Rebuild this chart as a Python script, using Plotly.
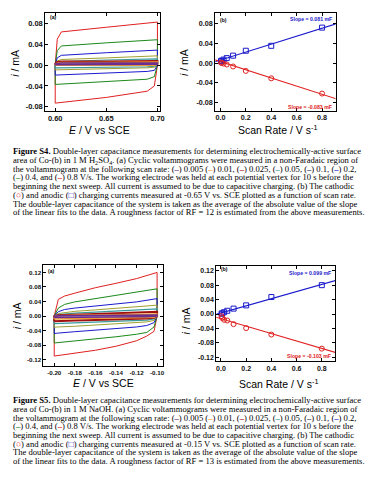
import plotly.graph_objects as go

W, H = 382, 478

# ---------------- data ----------------
scan_rates = [0.005, 0.01, 0.025, 0.05, 0.1, 0.2, 0.4, 0.8]
rate_labels = ["0.005", "0.01", "0.025", "0.05", "0.1", "0.2", "0.4", "0.8"]

# Figure S4 (a): CV loops in 1 M H2SO4
E4 = [0.600, 0.600, 0.602, 0.606, 0.650, 0.700, 0.700, 0.697, 0.690, 0.650, 0.600]
I4_0p8 = [-0.073, 0.000, 0.050, 0.064, 0.073, 0.083, 0.000, -0.040, -0.050, -0.062, -0.073]
I4_0p4 = [-0.037, 0.000, 0.028, 0.037, 0.043, 0.049, 0.000, -0.022, -0.027, -0.032, -0.037]
I4_0p2 = [-0.019, 0.000, 0.014, 0.019, 0.024, 0.029, 0.000, -0.010, -0.012, -0.015, -0.019]
I4_0p1 = [-0.009, 0.000, 0.008, 0.011, 0.014, 0.018, 0.000, -0.004, -0.005, -0.007, -0.009]
I4_0p05 = [-0.005, 0.000, 0.005, 0.007, 0.010, 0.012, 0.000, -0.002, -0.003, -0.004, -0.005]
I4_0p025 = [0.001, 0.003, 0.006, 0.007, 0.007, 0.008, 0.003, 0.001, 0.001, 0.001, 0.001]
I4_0p01 = [0.000, 0.002, 0.004, 0.005, 0.005, 0.006, 0.002, 0.000, 0.000, 0.000, 0.000]
I4_0p005 = [0.001, 0.002, 0.003, 0.004, 0.004, 0.004, 0.002, 0.002, 0.002, 0.002, 0.001]

# Figure S4 (b): charging currents vs scan rate
anodic_S4 = [0.004, 0.005, 0.007, 0.010, 0.015, 0.025, 0.035, 0.072]
cathodic_S4 = [0.001, 0.000, -0.001, -0.003, -0.007, -0.016, -0.031, -0.062]
fit_S4_slopes = [0.081, -0.083]
fit_S4_intercepts = [0.006, 0.003]

# Figure S5 (a): CV loops in 1 M NaOH
E5 = [-0.200, -0.200, -0.196, -0.190, -0.180, -0.160, -0.140, -0.120, -0.100,
      -0.100, -0.103, -0.110, -0.120, -0.140, -0.160, -0.180, -0.197, -0.200]
I5_0p8 = [-0.110, 0.000, 0.046, 0.055, 0.063, 0.078, 0.090, 0.103, 0.120,
          0.000, -0.042, -0.055, -0.068, -0.083, -0.094, -0.103, -0.110, -0.110]
I5_0p4 = [-0.074, 0.000, 0.022, 0.032, 0.039, 0.048, 0.056, 0.064, 0.075,
          0.000, -0.030, -0.045, -0.050, -0.057, -0.062, -0.067, -0.072, -0.074]
I5_0p2 = [-0.048, 0.000, 0.012, 0.018, 0.022, 0.028, 0.033, 0.039, 0.048,
          0.000, -0.018, -0.026, -0.030, -0.035, -0.039, -0.043, -0.047, -0.048]
I5_0p1 = [-0.031, 0.000, 0.007, 0.010, 0.013, 0.017, 0.021, 0.025, 0.030,
          0.000, -0.012, -0.016, -0.018, -0.022, -0.025, -0.028, -0.030, -0.031]
I5_0p05 = [-0.021, 0.000, 0.004, 0.006, 0.008, 0.011, 0.014, 0.017, 0.020,
           0.000, -0.008, -0.011, -0.012, -0.014, -0.016, -0.018, -0.020, -0.021]
I5_0p025 = [-0.014, 0.000, 0.002, 0.003, 0.004, 0.006, 0.008, 0.010, 0.012,
            0.000, -0.005, -0.007, -0.008, -0.009, -0.011, -0.012, -0.013, -0.014]
I5_0p01 = [-0.008, 0.000, 0.001, 0.002, 0.002, 0.003, 0.004, 0.005, 0.006,
           0.000, -0.003, -0.004, -0.005, -0.005, -0.006, -0.007, -0.008, -0.008]
I5_0p005 = [-0.004, 0.000, 0.001, 0.001, 0.001, 0.002, 0.002, 0.002, 0.003,
            0.000, -0.001, -0.002, -0.002, -0.003, -0.003, -0.003, -0.004, -0.004]

# Figure S5 (b)
anodic_S5 = [0.001, 0.002, 0.005, 0.009, 0.015, 0.024, 0.047, 0.080]
cathodic_S5 = [-0.006, -0.011, -0.016, -0.018, -0.028, -0.039, -0.057, -0.096]
fit_S5_slopes = [0.099, -0.103]
fit_S5_intercepts = [0.003, -0.013]
fit_x = [-0.05, 0.95]

# tick labels
yt_S4 = [-0.08, -0.04, 0.00, 0.04, 0.08]
yt_S4_text = ["-0.08", "-0.04", "0.00", "0.04", "0.08"]
xt_S4a = [0.60, 0.65, 0.70]
xt_S4a_text = ["0.60", "0.65", "0.70"]
xt_b = [0.0, 0.2, 0.4, 0.6, 0.8]
xt_b_text = ["0.0", "0.2", "0.4", "0.6", "0.8"]
yt_S5 = [-0.12, -0.08, -0.04, 0.00, 0.04, 0.08, 0.12]
yt_S5_text = ["-0.12", "-0.08", "-0.04", "0.00", "0.04", "0.08", "0.12"]
xt_S5a = [-0.20, -0.18, -0.16, -0.14, -0.12, -0.10]
xt_S5a_text = ["-0.20", "-0.18", "-0.16", "-0.14", "-0.12", "-0.10"]

# ---------------- styles ----------------
cv_colors = ["#6b2d8f", "#f0a030", "#a01010", "#3a9a9a", "#a0a030", "#1a1acc", "#1a8a1a", "#e02020"]
cv_widths = [1.5, 1.5, 2.0, 1.2, 1.0, 1.0, 1.0, 1.0]
cap_colors = ["#6b2d8f", "#f0a030", "#a01010", "#3a9a9a", "#3a3a5a", "#1a1acc", "#1a8a1a", "#e02020"]
BLUE = "#1a1acc"
RED = "#e02020"


def px(x):
    return x / W


def py(y):
    return 1 - y / H


fig = go.Figure()

cv4 = [I4_0p005, I4_0p01, I4_0p025, I4_0p05, I4_0p1, I4_0p2, I4_0p4, I4_0p8]
cv5 = [I5_0p005, I5_0p01, I5_0p025, I5_0p05, I5_0p1, I5_0p2, I5_0p4, I5_0p8]

for k in reversed(range(len(scan_rates))):
    fig.add_trace(go.Scatter(x=E4, y=cv4[k], mode="lines", xaxis="x", yaxis="y",
                             line=dict(color=cv_colors[k], width=cv_widths[k]),
                             showlegend=False, hoverinfo="skip"))
for k in reversed(range(len(scan_rates))):
    fig.add_trace(go.Scatter(x=E5, y=cv5[k], mode="lines", xaxis="x3", yaxis="y3",
                             line=dict(color=cv_colors[k], width=cv_widths[k]),
                             showlegend=False, hoverinfo="skip"))


def add_b(xa, ya, an, ca, slopes, inters):
    for s, b, col in zip(slopes, inters, [BLUE, RED]):
        fig.add_trace(go.Scatter(x=fit_x, y=[s * v + b for v in fit_x], mode="lines",
                                 xaxis=xa, yaxis=ya, line=dict(color=col, width=1.1),
                                 showlegend=False, hoverinfo="skip"))
    fig.add_trace(go.Scatter(x=scan_rates, y=an, mode="markers", xaxis=xa, yaxis=ya,
                             marker=dict(symbol="square-open", size=5, color=BLUE,
                                         line=dict(width=1, color=BLUE)),
                             showlegend=False, hoverinfo="skip"))
    fig.add_trace(go.Scatter(x=scan_rates, y=ca, mode="markers", xaxis=xa, yaxis=ya,
                             marker=dict(symbol="circle-open", size=5, color=RED,
                                         line=dict(width=1, color=RED)),
                             showlegend=False, hoverinfo="skip"))


add_b("x2", "y2", anodic_S4, cathodic_S4, fit_S4_slopes, fit_S4_intercepts)
add_b("x4", "y4", anodic_S5, cathodic_S5, fit_S5_slopes, fit_S5_intercepts)


def axis(domain, rng, tv, tt, anchor, fs):
    return dict(domain=domain, range=rng, tickmode="array", tickvals=tv, ticktext=tt,
                anchor=anchor, showline=True, linecolor="black", linewidth=1,
                mirror="ticks", ticks="inside", ticklen=3, tickcolor="black",
                showgrid=False, zeroline=False,
                tickfont=dict(family="Liberation Sans", size=fs, color="#111", weight="bold"))


fig.update_layout(
    width=W, height=H, margin=dict(l=0, r=0, t=0, b=0),
    paper_bgcolor="white", plot_bgcolor="white",
    xaxis=axis([px(37.7), px(154)], [0.5903, 0.7029], xt_S4a, xt_S4a_text, "y", 7.5),
    yaxis=axis([py(103), py(4.7)], [-0.0877, 0.101], yt_S4, yt_S4_text, "x", 7.5),
    xaxis2=axis([px(209.5), px(331)], [-0.04, 0.906], xt_b, xt_b_text, "y2", 7.2),
    yaxis2=axis([py(103), py(5)], [-0.097, 0.1017], yt_S4, yt_S4_text, "x2", 7.2),
    xaxis3=axis([px(35.7), px(156.7)], [-0.2106, -0.0942], xt_S5a, xt_S5a_text, "y3", 6.2),
    yaxis3=axis([py(359), py(257.7)], [-0.138, 0.140], yt_S5, yt_S5_text, "x3", 6.2),
    xaxis4=axis([px(210.5), px(330.5)], [-0.037, 0.905], xt_b, xt_b_text, "y4", 7.0),
    yaxis4=axis([py(354), py(258.3)], [-0.131, 0.1338], yt_S5, yt_S5_text, "x4", 7.0),
)

ann = []


def txt(x, y, s, size, color="black", family="Liberation Sans", xanchor="center",
        angle=0, weight="normal"):
    ann.append(dict(x=px(x), y=py(y), xref="paper", yref="paper", text=s, showarrow=False,
                    xanchor=xanchor, yanchor="middle", textangle=angle,
                    font=dict(family=family, size=size, color=color, weight=weight)))


# axis titles
ylab = "<i>i</i> / mA"
xlab = "<i>E</i> / V vs SCE"
blab = "Scan Rate / V s<sup>-1</sup>"
txt(7, 55, ylab, 10.5, angle=-90)
txt(92, 122, xlab, 10.5)
txt(178, 55, ylab, 10.5, angle=-90)
txt(272, 122, blab, 10.5)
txt(9, 308, ylab, 10.5, angle=-90)
txt(97, 376, xlab, 10.5)
txt(180, 314, ylab, 10.5, angle=-90)
txt(273, 376, blab, 10.5)

# panel labels
txt(40, 9, "(a)", 5, xanchor="left", weight="bold")
txt(212, 12, "(b)", 5, xanchor="left", weight="bold")
txt(38, 264, "(a)", 5, xanchor="left", weight="bold")
txt(213, 262, "(b)", 5, xanchor="left", weight="bold")

# slopes
txt(329, 11, "Slope = 0.081 mF", 5.2, BLUE, xanchor="right", weight="bold")
txt(329, 99, "Slope = -0.083 mF", 5.2, RED, xanchor="right", weight="bold")
txt(328, 266, "Slope = 0.099 mF", 5.2, BLUE, xanchor="right", weight="bold")
txt(328, 349, "Slope = -0.103 mF", 5.2, RED, xanchor="right", weight="bold")


def dash(i):
    return "(<span style='color:%s'><b>\u2013</b></span>)" % cap_colors[i]


def caption(fig_no, medium, potential, rf, y0):
    lines = [
        "<b>Figure %s.</b> Double-layer capacitance measurements for determining electrochemically-active surface" % fig_no,
        "area of Co-(b) in 1 M %s. (a) Cyclic voltammograms were measured in a non-Faradaic region of" % medium,
        "the voltammogram at the following scan rate: %s 0.005 %s 0.01, %s 0.025, %s 0.05, %s 0.1, %s 0.2,"
        % tuple(dash(i) for i in range(6)),
        "%s 0.4, and %s 0.8 V/s. The working electrode was held at each potential vertex for 10 s before the"
        % (dash(6), dash(7)),
        "beginning the next sweep. All current is assumed to be due to capacitive charging. (b) The cathodic",
        "(<span style='color:%s'>\u25cb</span>) and anodic (<span style='color:%s'>\u25a1</span>) charging currents measured at %s V vs. SCE plotted as a function of scan rate."
        % (RED, BLUE, potential),
        "The double-layer capacitance of the system is taken as the average of the absolute value of the slope",
        "of the linear fits to the data. A roughness factor of RF = %s is estimated from the above measurements." % rf,
    ]
    for j, s in enumerate(lines):
        txt(3, y0 + j * 8.71, s, 8.6, family="Liberation Serif", xanchor="left")


caption("S4", "H<sub>2</sub>SO<sub>4</sub>", "-0.65", "12", 143.7)
caption("S5", "NaOH", "-0.15", "13", 393)

fig.update_layout(annotations=ann)
fig.write_html("out.html")
